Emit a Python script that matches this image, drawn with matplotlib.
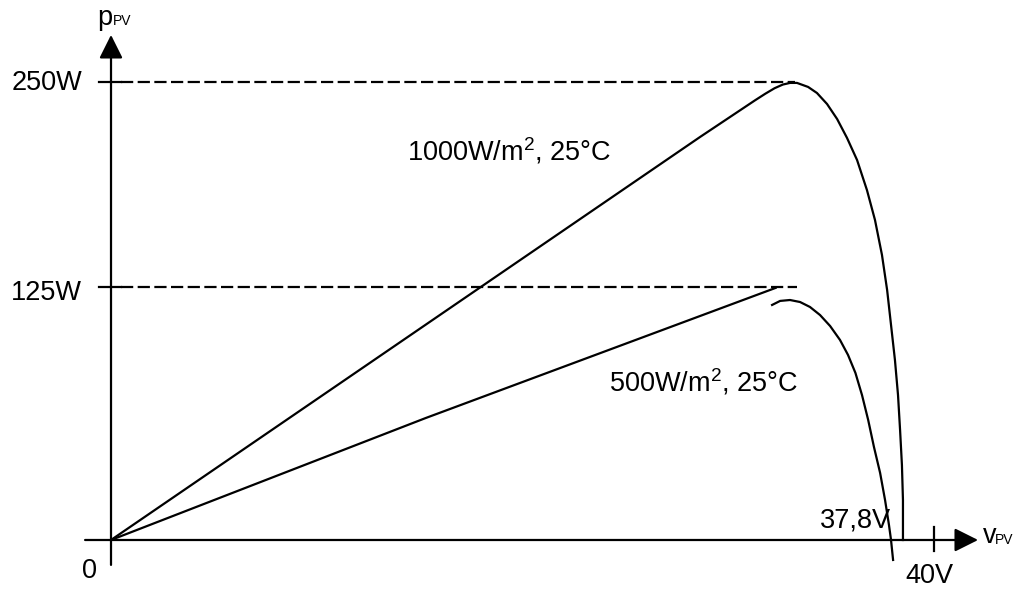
import matplotlib
matplotlib.use('Agg')
import matplotlib.pyplot as plt

plt.rcParams['font.family'] = ['Liberation Sans', 'DejaVu Sans']
plt.rcParams['mathtext.fontset'] = 'custom'
plt.rcParams['mathtext.rm'] = 'Liberation Sans'
plt.rcParams['mathtext.it'] = 'Liberation Sans'

# P-V characteristic of the PV module (V, W)
v_1000 = [0, 28.63, 31.30, 31.80, 32.25, 32.65, 33.00, 33.34, 33.88, 34.31,
          34.80, 35.29, 35.77, 36.26, 36.74, 37.13, 37.47, 37.72, 37.91, 38.10,
          38.25, 38.35, 38.44, 38.49, 38.49]
p_1000 = [0, 220.0, 240.0, 243.6, 246.6, 248.6, 249.5, 249.5, 247.3, 244.0,
          238.0, 229.8, 219.5, 207.4, 191.0, 174.7, 155.6, 136.5, 117.4, 98.3,
          79.1, 60.0, 40.9, 21.8, 0]

# 500 W/m2: rising branch and the separate falling branch
v_500_up = [0, 15.3, 32.3]
p_500_up = [0, 66.6, 137.6]
v_500_down = [32.13, 32.52, 33.00, 33.49, 33.97, 34.46, 34.95, 35.43, 35.82,
              36.18, 36.50, 36.80, 37.08, 37.38, 37.62, 37.81, 37.91, 38.01]
p_500_down = [128.3, 130.5, 131.0, 129.9, 127.2, 122.8, 116.8, 109.2, 101.0,
              91.2, 79.1, 65.5, 50.8, 36.6, 21.8, 8.2, 0, -10.9]

# levels of the dashed lines and their labels
p_levels = [250, 138]
p_labels = ['250W', '125W']
p_label_base = [245.6, 131.0]
dash_end = [33.24, 33.34]

v_tick = 40
v_tick_label = '40V'
voc_label = '37,8V'

fig = plt.figure(figsize=(10.26, 5.89), dpi=100)
ax = fig.add_axes([0, 0, 1, 1])
ax.set_xlim(-5.395, 44.47)
ax.set_ylim(-26.75, 294.76)
ax.axis('off')

fs = 19.5
lw = 1.6

# axes with arrow heads
arrow = dict(arrowstyle='-|>,head_length=0.4,head_width=0.2', mutation_scale=36,
             lw=lw, color='black', shrinkA=0, shrinkB=0)
ax.annotate('', xy=(0, 275.7), xytext=(0, -13.6), arrowprops=arrow)
ax.annotate('', xy=(42.14, 0), xytext=(-1.26, 0), arrowprops=arrow)

# dashed level lines with short solid ticks
for lev, end in zip(p_levels, dash_end):
    ax.plot([-0.6, 0.5], [lev, lev], color='black', lw=lw)
    ax.plot([0.5, end], [lev, lev], color='black', lw=lw,
            linestyle=(0, (5.5, 2.0)))
for lev, lab, base in zip(p_levels, p_labels, p_label_base):
    ax.text(-1.41, base, lab, ha='right', va='baseline', fontsize=fs)

# 40 V tick
ax.plot([v_tick, v_tick], [7.1, -6.0], color='black', lw=lw)
ax.text(38.59, -23.5, v_tick_label, ha='left', va='baseline', fontsize=fs)

# curves
ax.plot(v_1000, p_1000, color='black', lw=lw, solid_joinstyle='round')
ax.plot(v_500_up, p_500_up, color='black', lw=lw)
ax.plot(v_500_down, p_500_down, color='black', lw=lw, solid_joinstyle='round')

# labels
ax.text(14.39, 207.4, r'1000W/m$^{\mathregular{2}}$, 25°C', ha='left',
        va='baseline', fontsize=fs)
ax.text(24.20, 81.3, r'500W/m$^{\mathregular{2}}$, 25°C', ha='left',
        va='baseline', fontsize=fs)
ax.text(34.46, 6.55, voc_label, ha='left', va='baseline', fontsize=fs)
ax.text(-0.68, -20.7, '0', ha='right', va='baseline', fontsize=fs)

# axis names
ax.text(-0.68, 281.1, 'p', ha='left', va='baseline', fontsize=fs)
ax.text(0.10, 281.1, 'PV', ha='left', va='baseline', fontsize=10)
ax.text(42.38, -1.6, 'v', ha='left', va='baseline', fontsize=fs)
ax.text(42.96, -2.2, 'PV', ha='left', va='baseline', fontsize=10)

fig.savefig('out.png', dpi=100)
